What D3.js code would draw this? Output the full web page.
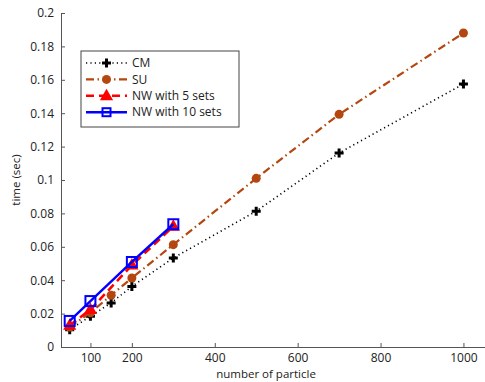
<!DOCTYPE html>
<html>
<head>
<meta charset="utf-8">
<script src="https://cdn.jsdelivr.net/npm/d3@7"></script>
<style>
  body { margin: 0; background: #fff; }
  svg text { font-family: "Open Sans", "DejaVu Sans", sans-serif; fill: #222; }
</style>
</head>
<body>
<div id="chart"></div>
<script>
// values
const particlesAll = [50, 100, 150, 200, 300, 500, 700, 1000];
const particlesNW = [50, 100, 200, 300];
const cmTimes = [0.0104, 0.0184, 0.0264, 0.0363, 0.0533, 0.0813, 0.1162, 0.1575];
const suTimes = [0.0120, 0.0205, 0.0310, 0.0413, 0.0613, 0.1010, 0.1393, 0.1880];
const nw5Times = [0.0130, 0.0224, 0.0490, 0.0722];
const nw10Times = [0.0156, 0.0275, 0.0509, 0.0735];
const xTicks = [100, 200, 400, 600, 800, 1000];
const yTicks = [0, 0.02, 0.04, 0.06, 0.08, 0.1, 0.12, 0.14, 0.16, 0.18, 0.2];

const series = [
  {name: 'CM', xs: particlesAll, ys: cmTimes, color: '#000', dash: '1.2,3.2', width: 1.6, marker: 'plus'},
  {name: 'SU', xs: particlesAll, ys: suTimes, color: '#b3470f', dash: '8,3.5,1.5,3.5', width: 2.2, marker: 'circle'},
  {name: 'NW with 5 sets', xs: particlesNW, ys: nw5Times, color: '#ff0000', dash: '8,5', width: 2.6, marker: 'triangle'},
  {name: 'NW with 10 sets', xs: particlesNW, ys: nw10Times, color: '#0000ff', dash: null, width: 2.4, marker: 'square'}
];

const W = 485, H = 382;
const margin = {top: 13, right: 0, bottom: 35, left: 61};
const width = W - margin.left - margin.right;
const height = H - margin.top - margin.bottom;

const svg = d3.select('#chart').append('svg')
  .attr('width', W)
  .attr('height', H);

const g = svg.append('g')
  .attr('transform', `translate(${margin.left}, ${margin.top})`);

const x = d3.scaleLinear().domain([29, 1052]).range([0, width]);
const y = d3.scaleLinear().domain([0, 0.2]).range([height, 0]);

// axes, MATLAB style inward ticks
const xAxis = g.append('g')
  .attr('transform', `translate(0, ${height})`)
  .call(d3.axisBottom(x).tickValues(xTicks).tickFormat(d3.format('d'))
    .tickSizeInner(-4).tickSizeOuter(0).tickPadding(6));
const yAxis = g.append('g')
  .call(d3.axisLeft(y).tickValues(yTicks).tickFormat(d => d3.format('~g')(d))
    .tickSizeInner(-4).tickSizeOuter(0).tickPadding(7));

[xAxis, yAxis].forEach(a => {
  a.selectAll('.domain').attr('stroke', '#555').attr('stroke-width', 1);
  a.selectAll('.tick line').attr('stroke', '#555');
  a.selectAll('.tick text').attr('font-size', 12).style('fill', '#222');
});

g.append('text')
  .attr('x', width / 2 - 7)
  .attr('y', height + 31)
  .attr('text-anchor', 'middle')
  .attr('font-size', 11.5)
  .text('number of particle');

g.append('text')
  .attr('transform', `translate(${20 - margin.left}, ${height / 2}) rotate(-90)`)
  .attr('text-anchor', 'middle')
  .attr('font-size', 11.5)
  .text('time (sec)');

function drawMarker(sel, kind, color, cx, cy, s) {
  if (kind === 'plus') {
    sel.append('path')
      .attr('d', `M${cx - s},${cy}H${cx + s}M${cx},${cy - s}V${cy + s}`)
      .attr('stroke', color).attr('stroke-width', 3);
  } else if (kind === 'circle') {
    sel.append('circle').attr('cx', cx).attr('cy', cy).attr('r', s)
      .attr('fill', color);
  } else if (kind === 'triangle') {
    sel.append('path')
      .attr('d', `M${cx},${cy - s * 1.3}L${cx + s * 1.2},${cy + s * 0.8}L${cx - s * 1.2},${cy + s * 0.8}Z`)
      .attr('fill', color);
  } else if (kind === 'square') {
    sel.append('rect').attr('x', cx - s).attr('y', cy - s).attr('width', 2 * s).attr('height', 2 * s)
      .attr('fill', 'none').attr('stroke', color).attr('stroke-width', 2);
  }
}

const markerSize = {plus: 4.5, circle: 4.5, triangle: 5.5, square: 5};

const line = d3.line()
  .x(d => x(d[0]))
  .y(d => y(d[1]));

series.forEach(s => {
  const pts = s.xs.map((v, i) => [v, s.ys[i]]);
  g.append('path')
    .datum(pts)
    .attr('fill', 'none')
    .attr('stroke', s.color)
    .attr('stroke-width', s.width)
    .attr('stroke-dasharray', s.dash)
    .attr('d', line);
  const mg = g.append('g');
  pts.forEach(p => drawMarker(mg, s.marker, s.color, x(p[0]), y(p[1]), markerSize[s.marker]));
});

// legend
const lg = svg.append('g').attr('transform', 'translate(81, 51)');
lg.append('rect')
  .attr('width', 158).attr('height', 76)
  .attr('fill', '#fff').attr('stroke', '#444').attr('stroke-width', 1);
series.forEach((s, i) => {
  const cy = 12 + i * 16.4;
  lg.append('line')
    .attr('x1', 5).attr('x2', 46).attr('y1', cy).attr('y2', cy)
    .attr('stroke', s.color).attr('stroke-width', s.width)
    .attr('stroke-dasharray', s.dash);
  drawMarker(lg, s.marker, s.color, 25.5, cy, s.marker === 'square' ? 4 : markerSize[s.marker]);
  lg.append('text')
    .attr('x', 51).attr('y', cy).attr('dy', '0.35em')
    .attr('font-size', 12)
    .text(s.name);
});
</script>
</body>
</html>
